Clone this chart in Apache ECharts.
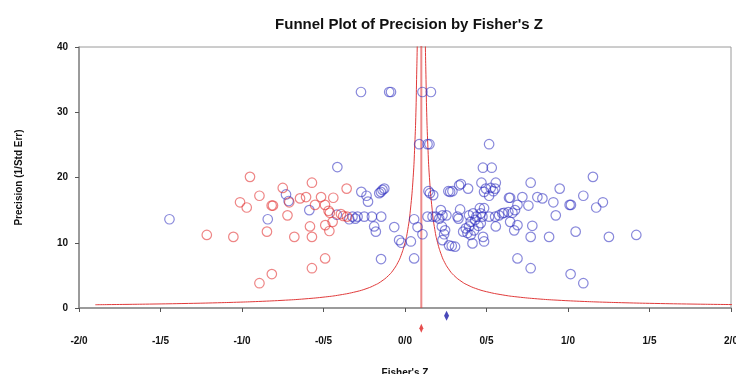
<!DOCTYPE html>
<html>
<head>
<meta charset="utf-8">
<script src="https://cdn.jsdelivr.net/npm/echarts@6/dist/echarts.min.js"></script>
<style>html,body{margin:0;padding:0;background:#fff;}#c{width:736px;height:374px;}</style>
</head>
<body>
<div id="c"></div>
<script>
// Observed studies (Fisher's Z, precision)
const observed = [
  [-0.27,33.1],[-0.097,33.1],[-0.086,33.1],[0.107,33.1],[0.159,33.1],
  [0.087,25.1],[0.138,25.1],[0.150,25.1],[0.516,25.1],
  [-0.415,21.6],[0.478,21.5],[0.532,21.5],
  [-1.445,13.6],[-0.842,13.6],[-0.73,17.4],[-0.714,16.4],[-0.587,15.0],
  [-0.418,14.3],[-0.342,13.6],[-0.305,13.7],[-0.291,14.0],[-0.25,14.0],[-0.203,14.0],[-0.146,14.0],[-0.322,14.0],
  [-0.268,17.8],[-0.236,17.2],[-0.227,16.3],[-0.158,17.6],[-0.148,17.8],[-0.127,18.3],[-0.138,18.1],
  [-0.189,12.5],[-0.179,11.7],[-0.066,12.4],[-0.036,10.4],[-0.022,10.0],[-0.147,7.5],
  [0.056,13.6],[0.077,12.4],[0.107,11.3],[0.036,10.2],[0.056,7.6],
  [0.144,17.9],[0.153,17.6],[0.173,17.3],
  [0.138,14.0],[0.169,14.0],[0.189,14.0],[0.22,15.0],[0.23,14.2],[0.21,13.7],[0.254,14.2],
  [0.226,12.5],[0.246,11.9],[0.24,11.3],[0.23,10.4],[0.27,9.6],[0.287,9.5],[0.307,9.4],
  [0.266,17.9],[0.277,17.8],[0.291,17.9],[0.332,18.8],[0.343,19.0],[0.387,18.3],
  [0.469,19.2],[0.557,19.2],[0.526,18.4],[0.542,17.9],[0.485,17.8],[0.516,17.2],[0.553,18.3],[0.496,18.3],
  [0.638,16.9],
  [0.322,14.0],[0.338,15.1],[0.328,13.7],[0.373,12.2],[0.357,11.7],[0.393,12.5],[0.403,13.2],[0.393,14.2],
  [0.418,14.5],[0.43,13.5],[0.438,14.0],[0.459,15.3],[0.485,15.3],[0.465,14.5],[0.475,14.0],[0.516,14.0],
  [0.553,14.0],[0.577,14.2],[0.608,14.6],[0.634,14.7],[0.424,11.9],[0.45,12.6],[0.465,13.0],[0.403,11.2],
  [0.383,11.5],[0.414,9.9],[0.479,10.9],[0.485,10.2],[0.557,12.5],
  [0.771,19.2],[0.949,18.3],[1.153,20.1],[1.094,17.2],[1.214,16.2],[1.173,15.4],[1.010,15.8],[1.018,15.8],
  [0.91,16.2],[0.925,14.2],[0.843,16.8],[0.812,17.0],[0.757,15.7],[0.72,17.0],[0.645,16.9],[0.69,15.8],
  [0.675,15.0],[0.659,14.6],[0.597,14.5],[0.645,13.2],[0.69,12.7],[0.67,11.9],[0.781,12.6],
  [0.771,10.9],[0.884,10.9],[1.047,11.7],[1.251,10.9],[0.69,7.6],[0.771,6.1],[1.016,5.2],[1.094,3.8],[1.419,11.2]
];
// Imputed studies (trim and fill)
const imputed = [
  [-1.216,11.2],[-1.053,10.9],[-0.951,20.1],[-1.012,16.2],[-0.971,15.4],[-0.893,17.2],[-0.893,3.8],
  [-0.810,15.7],[-0.818,15.7],[-0.75,18.4],[-0.847,11.7],[-0.817,5.2],[-0.571,19.2],[-0.71,16.2],
  [-0.644,16.8],[-0.607,17.0],[-0.515,17.0],[-0.44,16.9],[-0.358,18.3],[-0.552,15.8],[-0.491,15.8],
  [-0.469,14.9],[-0.461,14.6],[-0.721,14.2],[-0.393,14.4],[-0.379,14.1],[-0.356,14.0],[-0.444,13.2],
  [-0.489,12.7],[-0.583,12.5],[-0.464,11.8],[-0.679,10.9],[-0.571,10.9],[-0.49,7.6],[-0.571,6.1]
];
// Funnel (pseudo confidence limits)
const funnelLeft = [
  [-1.90,0.5],[-1.718,0.55],[-1.567,0.6],[-1.329,0.7],[-1.15,0.8],[-1.011,0.9],[-0.90,1.0],[-0.733,1.2],
  [-0.614,1.4],[-0.488,1.7],[-0.40,2.0],[-0.30,2.5],[-0.233,3.0],[-0.186,3.5],[-0.15,4],[-0.10,5],
  [-0.067,6],[-0.043,7],[-0.025,8],[0.0,10],[0.017,12],[0.033,15],[0.05,20],[0.06,25],[0.067,30],
  [0.071,35],[0.075,40],[0.078,45]
];
const funnelRight = [
  [2.10,0.5],[1.918,0.55],[1.767,0.6],[1.529,0.7],[1.35,0.8],[1.211,0.9],[1.10,1.0],[0.933,1.2],
  [0.814,1.4],[0.688,1.7],[0.60,2.0],[0.50,2.5],[0.433,3.0],[0.386,3.5],[0.35,4],[0.30,5],
  [0.267,6],[0.243,7],[0.225,8],[0.20,10],[0.183,12],[0.167,15],[0.15,20],[0.14,25],[0.133,30],
  [0.129,35],[0.125,40],[0.122,45]
];
const centerLine = [[0.10,0],[0.10,45]];
const adjustedEstimate = [[0.10,-3.1]];
const observedEstimate = [[0.255,-1.2]];
const xTickLabels = ['-2/0','-1/5','-1/0','-0/5','0/0','0/5','1/0','1/5','2/0'];
const yTickLabels = ['0','10','20','30','40'];

const F = '"Liberation Sans", Arial, sans-serif';
const chart = echarts.init(document.getElementById('c'), null, {renderer:'canvas'});
const blue = 'rgba(45,45,190,0.7)';
const red = 'rgba(225,40,40,0.7)';
chart.setOption({
  animation: false,
  backgroundColor: '#fff',
  title: {
    text: "Funnel Plot of Precision by Fisher's Z",
    left: 404, top: 12, textAlign: 'center',
    textStyle: {fontFamily: F, fontSize: 15, fontWeight: 'bold', color: '#111'}
  },
  grid: {left: 79, right: 5, top: 47, bottom: 66, outerBoundsMode: 'none', containLabel: false,
         show: true, borderColor: '#9a9a9a', borderWidth: 1, backgroundColor: 'transparent'},
  xAxis: {
    type: 'value', min: -2, max: 2, interval: 0.5,
    name: "Fisher's Z", nameLocation: 'middle', nameGap: 60,
    nameTextStyle: {fontFamily: F, fontSize: 10, fontWeight: 'bold', color: '#111'},
    axisLine: {onZero: false, lineStyle: {color: '#8a8a8a', width: 1.5}},
    axisTick: {show: true, length: 4, lineStyle: {color: '#555'}},
    splitLine: {show: false},
    axisLabel: {
      margin: 28, fontFamily: F, fontSize: 10, fontWeight: 'bold', color: '#111',
      formatter: v => xTickLabels[Math.round((v + 2) / 0.5)]
    }
  },
  yAxis: {
    type: 'value', min: 0, max: 40, interval: 10,
    name: 'Precision (1/Std Err)', nameLocation: 'middle', nameGap: 55,
    nameTextStyle: {fontFamily: F, fontSize: 10, fontWeight: 'bold', color: '#111'},
    axisLine: {show: true, onZero: false, lineStyle: {color: '#8a8a8a', width: 1.5}},
    axisTick: {show: true, length: 4, lineStyle: {color: '#555'}},
    splitLine: {show: false},
    axisLabel: {
      margin: 11, fontFamily: F, fontSize: 10, fontWeight: 'bold', color: '#111',
      formatter: v => yTickLabels[Math.round(v / 10)]
    }
  },
  series: [
    {type: 'line', data: funnelLeft, smooth: true, symbol: 'none', lineStyle: {color: '#e03a3a', width: 1}, z: 2},
    {type: 'line', data: funnelRight, smooth: true, symbol: 'none', lineStyle: {color: '#e03a3a', width: 1}, z: 2},
    {type: 'line', data: centerLine, symbol: 'none', lineStyle: {color: 'rgba(225,60,60,0.6)', width: 2}, z: 2},
    {type: 'scatter', data: observed, symbol: 'circle', symbolSize: 9.5,
     itemStyle: {color: 'rgba(0,0,0,0)', borderColor: blue, borderWidth: 1.2}, z: 3},
    {type: 'scatter', data: imputed, symbol: 'circle', symbolSize: 9.5,
     itemStyle: {color: 'rgba(0,0,0,0)', borderColor: red, borderWidth: 1.2}, z: 3},
    {type: 'scatter', data: adjustedEstimate, symbol: 'diamond', symbolSize: [4, 9], clip: false,
     itemStyle: {color: '#e02020'}, z: 4},
    {type: 'scatter', data: observedEstimate, symbol: 'diamond', symbolSize: [5, 10], clip: false,
     itemStyle: {color: '#1a1aa8'}, z: 4}
  ]
});
</script>
</body>
</html>
